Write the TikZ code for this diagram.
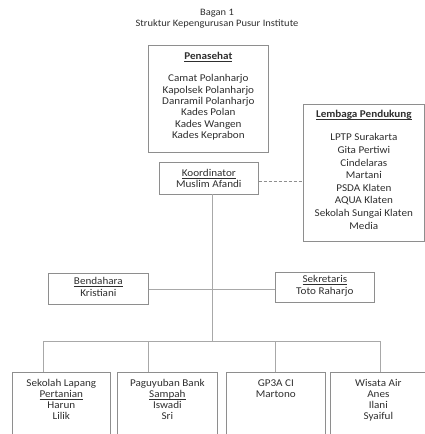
\documentclass[tikz,border=0pt]{standalone}
\usepackage{fontspec}
\setmainfont{Carlito}[FakeStretch=1.07]
\usetikzlibrary{positioning}

\definecolor{boxgray}{HTML}{8E8E8E}
\definecolor{linegray}{HTML}{A8A8A8}
\definecolor{inkgray}{HTML}{2E2E2E}
\newcommand{\ulname}[1]{\underline{\raisebox{0pt}[\height][0pt]{#1}}}

\begin{document}
\begin{tikzpicture}[
    x=1pt, y=-1pt,
    box/.style={draw=boxgray, line width=0.7pt, inner sep=0pt, anchor=north west}, % Frames
    txt/.style={font=\fontsize{10.4}{11.3}\selectfont, text=inkgray, align=center, inner sep=0pt, anchor=north},
    listtxt/.style={txt, font=\fontsize{10.4}{12.6}\selectfont},
    bottomtxt/.style={txt, font=\fontsize{10.4}{11}\selectfont},
    link/.style={draw=linegray, line width=0.7pt}
]
\useasboundingbox (0,0) rectangle (425,434);
\clip (0,0) rectangle (425,434);

% Title
\node[txt, font=\fontsize{9.8}{11}\selectfont] (title) at (217,9) {Bagan 1\\Struktur Kepengurusan Pusur Institute};

% Frames
\node[box, minimum width=120pt, minimum height=107pt] (penasehat) at (148,45) {};
\node[box, minimum width=99pt, minimum height=32pt] (koordinator) at (159,162) {};
\node[box, minimum width=121pt, minimum height=137pt] (lembaga) at (303,104) {};
\node[box, minimum width=100pt, minimum height=31pt] (bendahara) at (48,273) {};
\node[box, minimum width=99pt, minimum height=30pt] (sekretaris) at (275,272) {};
\node[box, minimum width=98pt, minimum height=75pt] (slp) at (12,372) {};
\node[box, minimum width=100pt, minimum height=75pt] (pbs) at (117,372) {};
\node[box, minimum width=99pt, minimum height=75pt] (gp3a) at (226,372) {};
\node[box, minimum width=96pt, minimum height=75pt] (wisata) at (330,372) {};

% Texts
\node[txt] (penasehatHead) at ([yshift=-7.5pt]penasehat.north) {\textbf{\ulname{Penasehat}}};
\node[txt] (penasehatList) at ([yshift=-29.5pt]penasehat.north) {Camat Polanharjo\\Kapolsek Polanharjo\\Danramil Polanharjo\\Kades Polan\\Kades Wangen\\Kades Keprabon};
\node[txt] (koordinatorText) at ([yshift=-7pt]koordinator.north) {\ulname{Koordinator}\\Muslim Afandi};
\node[txt] (lembagaHead) at ([yshift=-6.5pt]lembaga.north) {\textbf{\ulname{Lembaga Pendukung}}};
\node[listtxt] (lembagaList) at ([yshift=-29.5pt]lembaga.north) {LPTP Surakarta\\Gita Pertiwi\\Cindelaras\\Martani\\PSDA Klaten\\AQUA Klaten\\Sekolah Sungai Klaten\\Media};
\node[txt] (bendaharaText) at ([yshift=-4.5pt]bendahara.north) {\ulname{Bendahara}\\Kristiani};
\node[txt] (sekretarisText) at ([yshift=-3.5pt]sekretaris.north) {\ulname{Sekretaris}\\Toto Raharjo};
\node[bottomtxt] (slpText) at ([yshift=-7.5pt]slp.north) {Sekolah Lapang\\\ulname{Pertanian}\\Harun\\Lilik};
\node[bottomtxt] (pbsText) at ([yshift=-7.5pt]pbs.north) {Paguyuban Bank\\\ulname{Sampah}\\Iswadi\\Sri};
\node[bottomtxt] (gp3aText) at ([yshift=-7.5pt]gp3a.north) {GP3A CI\\Martono};
\node[bottomtxt] (wisataText) at ([yshift=-7.5pt]wisata.north) {Wisata Air\\Anes\\Ilani\\Syaiful};

% Connectors
\coordinate (spine) at (212,194);
\coordinate (busL) at (43,341);
\coordinate (busA) at (148,341);
\coordinate (busB) at (275,341);
\coordinate (busR) at (380,341);
\draw[densely dashed, draw=boxgray, line width=0.7pt] (koordinator.east |- 0,181) -- (lembaga.west |- 0,181);
\draw[link] (spine) -- (spine |- busL);
\draw[link] (bendahara.east) -- (bendahara.east -| sekretaris.west);
\draw[link] (busL) -- (busR);
\draw[link] (busL) -- (busL |- slp.north);
\draw[link] (busA) -- (busA |- pbs.north);
\draw[link] (busB) -- (busB |- gp3a.north);
\draw[link] (busR) -- (busR |- wisata.north);

\end{tikzpicture}
\end{document}
